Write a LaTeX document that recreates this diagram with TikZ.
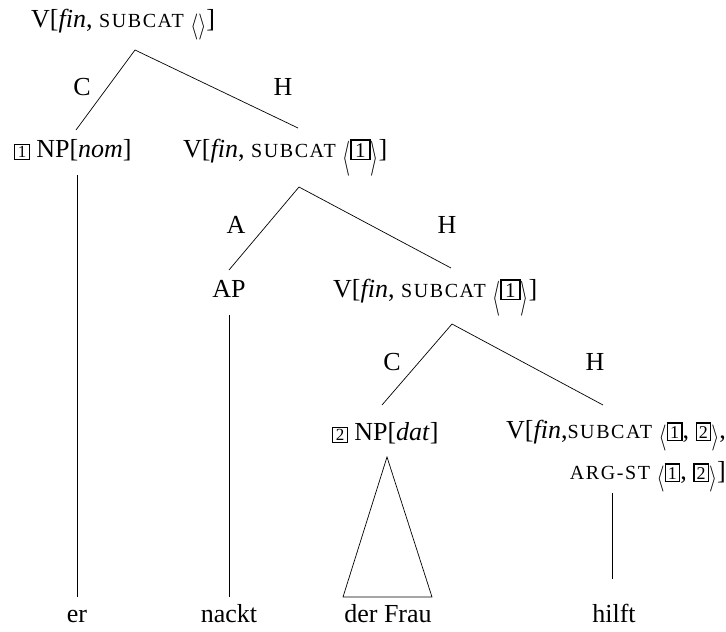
\documentclass[tikz,border=0pt]{standalone}
\usepackage{fontspec}
\usepackage{graphicx}
\setmainfont{Liberation Serif}
\newfontfamily\scfont[LetterSpace=8]{Liberation Serif}
% small capitals drawn as spaced-out upper case at a reduced size
\newcommand{\smc}[1]{{\scfont\fontsize{20}{20}\selectfont #1}}
% framed index: #1 digit size, #2 inner width, #3 inner height, #4 rule, #5 digit
\newcommand{\ibox}[5]{{\setlength{\fboxsep}{0pt}\setlength{\fboxrule}{#4}%
  \fbox{\makebox[#2][c]{\rule[-1.5pt]{0pt}{#3}\fontsize{#1}{#1}\selectfont #5}}}}
\newcommand{\tagbox}[1]{\ibox{17pt}{14pt}{14pt}{0.8pt}{#1}}
\newcommand{\refbox}[1]{\ibox{18pt}{13pt}{16pt}{1.4pt}{#1}}
\newcommand{\bigbox}[1]{\ibox{21pt}{17pt}{17.5pt}{1.7pt}{#1}}
% thin angle brackets of a given height above and below the baseline
\newcommand{\abr}[3]{\raisebox{-#2}{\resizebox*{8pt}{#1}{$#3$}}}
\newcommand{\lst}[1]{\abr{26pt}{6pt}{\langle}#1\abr{26pt}{6pt}{\rangle}}
\newcommand{\Lst}[1]{\abr{35pt}{10pt}{\langle}#1\abr{35pt}{10pt}{\rangle}}
\tikzset{
  cat/.style={inner sep=0pt, anchor=base, font=\fontsize{26}{28}\selectfont},
  edge/.style={line width=0.7pt},
}
\begin{document}
\begin{tikzpicture}[x=1pt,y=-1pt]
\useasboundingbox (0,0) rectangle (726,632);
% categories
\node[cat, anchor=base west] (s) at (31,27) {V[\textit{fin}, \smc{SUBCAT} \lst{}]};
\node[cat, anchor=base west] (np1) at (14,157) {\tagbox{1} NP[\textit{nom}]};
\node[cat, anchor=base west] (vp1) at (183,157) {V[\textit{fin}, \smc{SUBCAT} \Lst{\bigbox{1}}]};
\node[cat] (ap) at (229,297) {AP};
\node[cat, anchor=base west] (vp2) at (333,297) {V[\textit{fin}, \smc{SUBCAT} \Lst{\bigbox{1}}]};
\node[cat, anchor=base west] (np2) at (332,440) {\tagbox{2} NP[\textit{dat}]};
\node[cat, anchor=base east] (v)  at (726,438) {V[\textit{fin},\smc{SUBCAT} \lst{\refbox{1}, \refbox{2}},};
\node[cat, anchor=base east] (v2) at (726,479) {\smc{ARG-ST} \lst{\refbox{1}, \refbox{2}}]};
% branch labels
\node[cat] (c1) at (82,95)  {C};
\node[cat] (h1) at (283,95) {H};
\node[cat] (a2) at (236,233) {A};
\node[cat] (h2) at (447,233) {H};
\node[cat] (c3) at (392,370) {C};
\node[cat] (h3) at (595,370) {H};
% words
\node[cat] (w1) at (77,622)  {er};
\node[cat] (w2) at (229,622) {nackt};
\node[cat] (w3) at (388,622) {der Frau};
\node[cat] (w4) at (614,622) {hilft};
% branching points
\coordinate (t1) at (135,50);
\coordinate (b1l) at (76,130);
\coordinate (b1r) at (298,128);
\coordinate (t2) at (299,187);
\coordinate (b2l) at (229,270);
\coordinate (b2r) at (451,268);
\coordinate (t3) at (452,324);
\coordinate (b3l) at (382,405);
\coordinate (b3r) at (603,405);
\draw[edge] (b1l) -- (t1) -- (b1r);
\draw[edge] (b2l) -- (t2) -- (b2r);
\draw[edge] (b3l) -- (t3) -- (b3r);
% unary lines down to the words
\coordinate (u1a) at (77,175);  \coordinate (u1b) at (77,597);
\coordinate (u2a) at (229,315); \coordinate (u2b) at (229,597);
\coordinate (u4a) at (612,493); \coordinate (u4b) at (612,579);
\draw[edge] (u1a) -- (u1b);
\draw[edge] (u2a) -- (u2b);
\draw[edge] (u4a) -- (u4b);
% triangle over the unanalysed phrase
\coordinate (tr) at (387,457);
\coordinate (trl) at (343,597);
\coordinate (trr) at (432,597);
\draw[edge] (tr) -- (trl) -- (trr) -- cycle;
\end{tikzpicture}
\end{document}
